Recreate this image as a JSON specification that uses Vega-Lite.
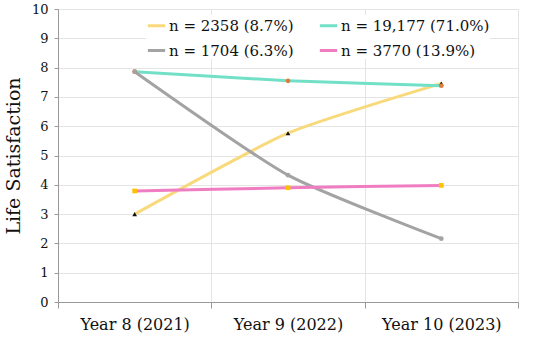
{
  "$schema": "https://vega.github.io/schema/vega-lite/v6.json",
  "width": 460,
  "height": 293,
  "autosize": {"type": "none"},
  "padding": {"left": 58, "top": 9, "right": 32, "bottom": 35},
  "background": "white",
  "config": {
    "view": {"stroke": null},
    "font": "DejaVu Serif"
  },
  "data": {
    "values": [
      {"year": "Year 8 (2021)", "group": "n = 2358 (8.7%)", "ls": 3.0},
      {"year": "Year 9 (2022)", "group": "n = 2358 (8.7%)", "ls": 5.76},
      {"year": "Year 10 (2023)", "group": "n = 2358 (8.7%)", "ls": 7.46},
      {"year": "Year 8 (2021)", "group": "n = 19,177 (71.0%)", "ls": 7.86},
      {"year": "Year 9 (2022)", "group": "n = 19,177 (71.0%)", "ls": 7.55},
      {"year": "Year 10 (2023)", "group": "n = 19,177 (71.0%)", "ls": 7.38},
      {"year": "Year 8 (2021)", "group": "n = 1704 (6.3%)", "ls": 7.86},
      {"year": "Year 9 (2022)", "group": "n = 1704 (6.3%)", "ls": 4.33},
      {"year": "Year 10 (2023)", "group": "n = 1704 (6.3%)", "ls": 2.16},
      {"year": "Year 8 (2021)", "group": "n = 3770 (13.9%)", "ls": 3.79},
      {"year": "Year 9 (2022)", "group": "n = 3770 (13.9%)", "ls": 3.9},
      {"year": "Year 10 (2023)", "group": "n = 3770 (13.9%)", "ls": 3.98}
    ]
  },
  "encoding": {
    "x": {
      "field": "year",
      "type": "nominal",
      "sort": ["Year 8 (2021)", "Year 9 (2022)", "Year 10 (2023)"],
      "scale": {"type": "band", "paddingInner": 0, "paddingOuter": 0},
      "axis": {
        "title": null,
        "labelAngle": 0,
        "labelFontSize": 16,
        "labelColor": "#111",
        "labelPadding": 8,
        "tickBand": "extent",
        "tickSize": 6,
        "tickColor": "#999",
        "domainColor": "#999",
        "grid": true,
        "gridColor": "#e4e4e4"
      }
    },
    "y": {
      "field": "ls",
      "type": "quantitative",
      "scale": {"domain": [0, 10], "nice": false},
      "axis": {
        "title": "Life Satisfaction",
        "titleFontSize": 19,
        "titleFontWeight": "normal",
        "titleColor": "#111",
        "titlePadding": 8,
        "values": [0, 1, 2, 3, 4, 5, 6, 7, 8, 9, 10],
        "labelFontSize": 13,
        "labelColor": "#111",
        "labelPadding": 6,
        "tickSize": 4,
        "tickColor": "#999",
        "domainColor": "#999",
        "gridColor": "#e4e4e4"
      }
    }
  },
  "layer": [
    {
      "mark": {"type": "line", "strokeWidth": 3, "interpolate": "cardinal", "tension": 0.4},
      "encoding": {
        "color": {
          "field": "group",
          "type": "nominal",
          "scale": {
            "domain": ["n = 2358 (8.7%)", "n = 19,177 (71.0%)", "n = 1704 (6.3%)", "n = 3770 (13.9%)"],
            "range": ["#F8DA7C", "#72E0C6", "#A3A3A3", "#F07DC2"]
          },
          "legend": {
            "title": null,
            "orient": "none",
            "legendX": 88,
            "legendY": 6,
            "direction": "horizontal",
            "columns": 2,
            "columnPadding": 19,
            "rowPadding": 6,
            "symbolType": "stroke",
            "symbolStrokeWidth": 3,
            "symbolSize": 300,
            "labelFontSize": 15,
            "labelColor": "#111",
            "labelOffset": 2,
            "fillColor": "white"
          }
        }
      }
    },
    {
      "mark": {"type": "point", "filled": true, "size": 22, "opacity": 1},
      "encoding": {
        "color": {
          "field": "group",
          "type": "nominal",
          "scale": {
            "domain": ["n = 2358 (8.7%)", "n = 19,177 (71.0%)", "n = 1704 (6.3%)", "n = 3770 (13.9%)"],
            "range": ["#111111", "#E07B39", "#A3A3A3", "#FFC000"]
          },
          "legend": null
        },
        "shape": {
          "field": "group",
          "type": "nominal",
          "scale": {
            "domain": ["n = 2358 (8.7%)", "n = 19,177 (71.0%)", "n = 1704 (6.3%)", "n = 3770 (13.9%)"],
            "range": ["triangle-up", "circle", "circle", "square"]
          },
          "legend": null
        }
      }
    }
  ],
  "resolve": {"scale": {"color": "independent"}}
}
